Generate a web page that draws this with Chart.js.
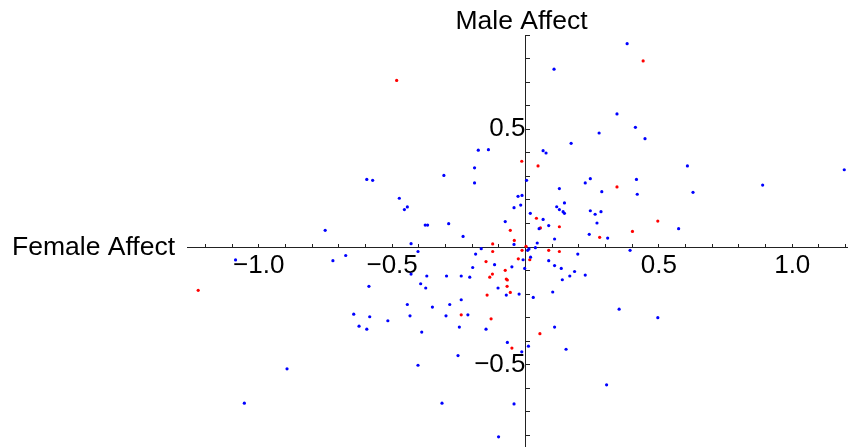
<!DOCTYPE html>
<html>
<head>
<meta charset="utf-8">
<script src="https://cdn.jsdelivr.net/npm/chart.js@4.4.1/dist/chart.umd.min.js"></script>
<style>
  html, body { margin: 0; padding: 0; background: #fff; }
  #wrap { width: 848px; height: 447px; }
</style>
</head>
<body>
<div id="wrap"><canvas id="myChart" width="848" height="447"></canvas></div>
<script>
// blue points (x = Female Affect, y = Male Affect)
const blueX = [0.107, 0.381, 0.343, 0.412, 0.448, 0.276, 0.171, 0.066, 0.077, 0.004,
  -0.028, -0.013, -0.018, -0.043, 0.018, 0.066, 0.051, 0.087, 0.109, 0.044,
  0.037, -0.009, 0.019, 0.008, 0.013, -0.003, 0.087, 0.109, 0.134, 0.196,
  0.184, 0.166, 0.138, 0.224, -0.024, 0.029, 0.102, 0.127, 0.146, 0.117,
  0.127, 0.141, 0.146, 0.224, 0.243, 0.286, 0.416, 0.419, 0.243, 0.261,
  0.283, 0.268, 0.239, 0.308, 0.574, 0.392, 0.607, 0.628, 0.889, 1.195,
  -0.177, -0.139, -0.595, -0.573, -0.306, -0.191, -0.191, -0.473, -0.443, -0.454,
  -0.376, -0.367, -0.288, -0.234, -0.429, -0.403, -0.076, -0.043, -0.166, -0.187,
  -0.116, -0.051, -0.198, -0.103, -0.072, -0.429, -0.370, -0.296, -0.241, -0.209,
  -0.393, -0.374, -0.587, -0.751, -1.087, -0.722, -0.674, -0.644, -0.894, -1.054,
  -0.624, -0.595, -0.584, -0.516, -0.443, -0.433, -0.349, -0.284, -0.241, -0.298,
  -0.216, -0.248, -0.148, -0.389, -0.068, -0.253, -0.403, -0.313, -0.043, -0.101,
  0.351, 0.496, 0.109, 0.011, -0.014, 0.152, 0.304];
const blueY = [0.755, 0.863, 0.565, 0.508, 0.460, 0.484, 0.440, 0.409, 0.399, 0.283,
  0.215, 0.219, 0.178, 0.167, 0.143, 0.117, 0.078, 0.091, 0.034, 0.017,
  -0.003, -0.054, -0.043, -0.014, -0.008, -0.091, -0.058, -0.079, -0.091, -0.030,
  -0.104, -0.123, -0.139, -0.119, -0.200, -0.214, -0.191, 0.248, 0.187, 0.171,
  0.159, 0.150, 0.143, 0.272, 0.290, 0.235, 0.287, 0.224, 0.154, 0.139,
  0.150, 0.102, 0.054, 0.038, 0.078, -0.014, 0.344, 0.232, 0.263, 0.328,
  0.411, 0.413, 0.287, 0.283, 0.304, 0.336, 0.272, 0.207, 0.170, 0.159,
  0.093, 0.093, 0.099, 0.045, 0.014, -0.019, 0.108, 0.011, -0.007, -0.030,
  -0.075, -0.084, -0.087, -0.174, -0.204, -0.115, -0.123, -0.123, -0.123, -0.128,
  -0.156, -0.174, -0.167, 0.071, -0.055, -0.058, -0.036, -0.285, -0.517, -0.663,
  -0.336, -0.349, -0.296, -0.313, -0.244, -0.292, -0.255, -0.244, -0.224, -0.292,
  -0.288, -0.340, -0.349, -0.361, -0.405, -0.461, -0.502, -0.663, -0.666, -0.806,
  -0.264, -0.300, -0.340, -0.421, -0.445, -0.434, -0.585];

// red points
const redX = [-0.483, 0.441, -0.014, 0.047, 0.041, 0.056, 0.127, 0.002, -0.042, -0.013,
  -0.027, 0.016, 0.087, 0.127, 0.343, 0.278, 0.401, 0.496, -0.057, -0.123,
  -0.123, -0.148, -0.076, -0.124, -0.134, -0.072, -0.068, -0.069, -0.057, -0.144,
  -1.227, -0.241, -0.129, -0.051, 0.054];
const redY = [0.707, 0.790, 0.364, 0.344, 0.122, 0.081, 0.086, 0.003, 0.028, -0.014,
  -0.050, -0.054, -0.014, -0.019, 0.255, 0.041, 0.066, 0.110, 0.071, 0.013,
  -0.019, -0.062, -0.099, -0.115, -0.128, -0.136, -0.140, -0.167, -0.193, -0.204,
  -0.184, -0.288, -0.305, -0.429, -0.368];

const xLabelTicks = [-1.0, -0.5, 0.5, 1.0];
const yLabelTicks = [-0.5, 0.5];
const xTitle = "Female Affect";
const yTitle = "Male Affect";

const FONT = "'Liberation Sans', Arial, sans-serif";
const AXIS_COLOR = "#222";

function toPoints(xs, ys) {
  return xs.map((x, i) => ({ x: x, y: ys[i] }));
}

function tickLabel(list) {
  return function (value) {
    const hit = list.some(t => Math.abs(t - value) < 1e-6);
    if (!hit) return [];
    return (value < 0 ? "\u2212" : "") + Math.abs(value).toFixed(1);
  };
}

// the axes cross inside the plot, so they should not eat into the chart area
function noPadding(scale) {
  scale.paddingLeft = 0;
  scale.paddingRight = 0;
  scale.paddingTop = 0;
  scale.paddingBottom = 0;
}

// axis titles placed at the ends of the crossing axes
const axisTitles = {
  id: "axisTitles",
  afterDraw(chart) {
    const ctx = chart.ctx;
    const xs = chart.scales.x;
    const ys = chart.scales.y;
    const x0 = xs.getPixelForValue(0);
    const y0 = ys.getPixelForValue(0);
    ctx.save();
    ctx.fillStyle = "#000";
    ctx.font = "26.5px " + FONT;
    ctx.textBaseline = "alphabetic";
    ctx.textAlign = "center";
    ctx.fillText(yTitle, x0 - 4, 29);
    ctx.textAlign = "right";
    ctx.fillText(xTitle, chart.chartArea.left - 12, y0 + 8);
    ctx.restore();
  }
};

const ctx = document.getElementById("myChart").getContext("2d");
const myChart = new Chart(ctx, {
  type: "scatter",
  data: {
    datasets: [
      {
        data: toPoints(blueX, blueY),
        backgroundColor: "#0000ff",
        borderWidth: 0,
        pointRadius: 1.6,
      },
      {
        data: toPoints(redX, redY),
        backgroundColor: "#ff0000",
        borderWidth: 0,
        pointRadius: 1.6,
      },
    ],
  },
  options: {
    responsive: false,
    animation: false,
    devicePixelRatio: 1,
    layout: { autoPadding: false, padding: { left: 187, top: 35, right: 0, bottom: 0 } },
    plugins: {
      legend: { display: false },
      tooltip: { enabled: false },
    },
    scales: {
      x: {
        type: "linear",
        position: { y: 0 },
        min: -1.269,
        max: 1.209,
        afterFit: noPadding,
        grid: { drawOnChartArea: false, tickLength: -4, tickColor: AXIS_COLOR, color: AXIS_COLOR },
        border: { display: true, color: AXIS_COLOR, width: 1 },
        ticks: {
          stepSize: 0.1,
          includeBounds: false,
          autoSkip: false,
          maxRotation: 0,
          padding: 7,
          color: "#000",
          font: { family: FONT, size: 26 },
          callback: tickLabel(xLabelTicks),
        },
      },
      y: {
        type: "linear",
        position: { x: 0 },
        min: -0.849,
        max: 0.9,
        afterFit: noPadding,
        grid: { drawOnChartArea: false, tickLength: -5, tickColor: AXIS_COLOR, color: AXIS_COLOR },
        border: { display: true, color: AXIS_COLOR, width: 1 },
        ticks: {
          stepSize: 0.1,
          includeBounds: false,
          autoSkip: false,
          padding: 0,
          color: "#000",
          font: { family: FONT, size: 26 },
          callback: tickLabel(yLabelTicks),
        },
      },
    },
  },
  plugins: [axisTitles],
});
</script>
</body>
</html>
